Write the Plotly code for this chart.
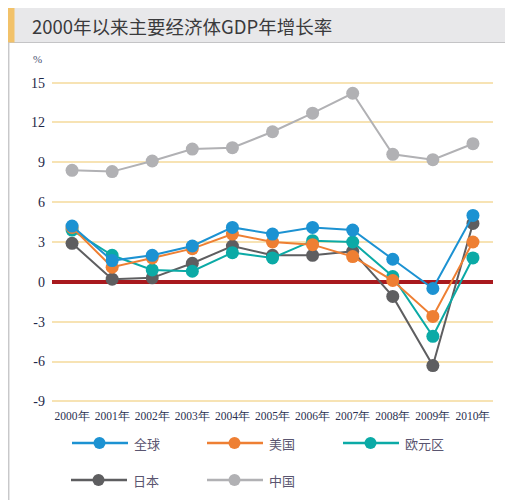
import plotly.graph_objects as go

years = ["2000年", "2001年", "2002年", "2003年", "2004年", "2005年",
         "2006年", "2007年", "2008年", "2009年", "2010年"]
global_gdp = [4.2, 1.6, 2.0, 2.7, 4.1, 3.6, 4.1, 3.9, 1.7, -0.5, 5.0]
us_gdp = [4.1, 1.1, 1.8, 2.5, 3.6, 3.0, 2.8, 1.9, 0.1, -2.6, 3.0]
euro_gdp = [3.9, 2.0, 0.9, 0.8, 2.2, 1.8, 3.1, 3.0, 0.4, -4.1, 1.8]
japan_gdp = [2.9, 0.2, 0.3, 1.4, 2.7, 2.0, 2.0, 2.3, -1.1, -6.3, 4.4]
china_gdp = [8.4, 8.3, 9.1, 10.0, 10.1, 11.3, 12.7, 14.2, 9.6, 9.2, 10.4]
y_ticks = [-9, -6, -3, 0, 3, 6, 9, 12, 15]
y_tick_labels = ["-9", "-6", "-3", "0", "3", "6", "9", "12", "15"]

series = [
    ("全球", global_gdp, "#1C92D2"),
    ("美国", us_gdp, "#EE7F33"),
    ("欧元区", euro_gdp, "#0BAAA6"),
    ("日本", japan_gdp, "#5E5E60"),
    ("中国", china_gdp, "#B1B1B4"),
]

# the page body adds an 8px offset, so work in shifted pixel coordinates
OFF = 8
W, H = 513 - OFF, 500 - OFF
L, R, T, B = 52 - OFF, 493 - OFF, 70 - OFF, 404 - OFF

def px(x):
    return (x - OFF - L) / (R - L)

def py(y):
    return (B - (y - OFF)) / (B - T)

fig = go.Figure()
for name, vals, color in reversed(series):
    fig.add_trace(go.Scatter(
        x=years, y=vals, name=name, mode="lines+markers",
        line=dict(color=color, width=2),
        marker=dict(color=color, size=13),
        showlegend=False,
    ))

shapes = []
annotations = []

# header band
shapes.append(dict(type="rect", xref="paper", yref="paper",
                   x0=px(8), x1=px(513), y0=py(42.5), y1=py(8),
                   fillcolor="#E8E8EA", line=dict(width=0), layer="below"))
shapes.append(dict(type="line", xref="paper", yref="paper",
                   x0=px(8), x1=px(513), y0=py(42.5), y1=py(42.5),
                   line=dict(color="#C4C4C6", width=1)))
shapes.append(dict(type="rect", xref="paper", yref="paper",
                   x0=px(8), x1=px(14.5), y0=py(42.5), y1=py(8),
                   fillcolor="#F2C26A", line=dict(width=0)))
# left frame line
shapes.append(dict(type="line", xref="paper", yref="paper",
                   x0=px(8.7), x1=px(8.7), y0=py(42.5), y1=py(500),
                   line=dict(color="#C8C8CA", width=1.5)))

annotations.append(dict(text="2000年以来主要经济体GDP年增长率", xref="paper", yref="paper",
                        x=px(30), y=py(25.5), xanchor="left", yanchor="middle",
                        showarrow=False,
                        font=dict(family="Noto Sans CJK SC", size=18.5, color="#3A3A3C")))
annotations.append(dict(text="%", xref="paper", yref="paper",
                        x=px(37), y=py(59), xanchor="center", yanchor="middle",
                        showarrow=False,
                        font=dict(family="Liberation Serif, serif", size=11, color="#4A5070")))

# custom legend
legend_pos = [(72, 443), (207, 443), (343, 443), (71, 480), (207, 480)]
for (name, vals, color), (lx, ly) in zip(series, legend_pos):
    shapes.append(dict(type="line", xref="paper", yref="paper",
                       x0=px(lx), x1=px(lx + 56), y0=py(ly), y1=py(ly),
                       line=dict(color=color, width=2.5)))
    shapes.append(dict(type="circle", xref="paper", yref="paper",
                       x0=px(lx + 21.5), x1=px(lx + 33.5), y0=py(ly + 6), y1=py(ly - 6),
                       fillcolor=color, line=dict(width=0)))
    annotations.append(dict(text=name, xref="paper", yref="paper",
                            x=px(lx + 60), y=py(ly), xanchor="left", yanchor="middle",
                            showarrow=False,
                            font=dict(family="Noto Sans CJK SC", size=13, color="#5A5570")))

y_min = -9 - (404 - 401.4) / 13.27
y_max = 15 + (82.6 - 70) / 13.27

fig.update_layout(
    width=W, height=H,
    margin=dict(l=L, r=W - R, t=T, b=H - B, pad=0),
    paper_bgcolor="white", plot_bgcolor="white",
    shapes=shapes, annotations=annotations,
    xaxis=dict(type="category", range=[-0.5, 10.5], showgrid=False, zeroline=False,
               showline=False, ticks="", ticklabelstandoff=3,
               tickfont=dict(family="Liberation Serif, Times New Roman, serif",
                             size=11.5, color="#2A3050")),
    yaxis=dict(range=[y_min, y_max], tickvals=y_ticks, ticktext=y_tick_labels,
               showgrid=True, gridcolor="#F7E3B4", gridwidth=1.5,
               zeroline=True, zerolinecolor="#A8191E", zerolinewidth=3.5,
               showline=False, ticks="", ticklabelstandoff=6,
               tickfont=dict(family="Liberation Serif, Times New Roman, serif",
                             size=14, color="#1E2848")),
    showlegend=False,
)

fig.write_html("out.html")
